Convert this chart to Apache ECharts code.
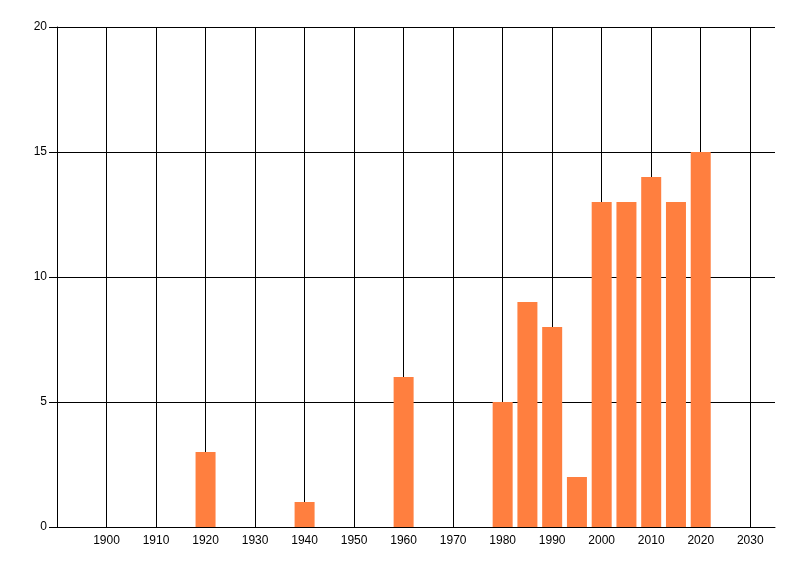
<!DOCTYPE html>
<html>
<head>
<meta charset="utf-8">
<script src="https://cdn.jsdelivr.net/npm/echarts@6/dist/echarts.min.js"></script>
<style>
html, body { margin: 0; padding: 0; background: #fff; }
#chart { width: 800px; height: 576px; }
</style>
</head>
<body>
<div id="chart"></div>
<script>
var years = [1920, 1940, 1960, 1980, 1985, 1990, 1995, 2000, 2005, 2010, 2015, 2020];
var counts = [3, 1, 6, 5, 9, 8, 2, 13, 13, 14, 13, 15];

var seriesData = [];
for (var i = 0; i < years.length; i++) {
    seriesData.push([years[i], counts[i]]);
}

var labelFont = '"Liberation Sans Narrow", "Liberation Sans", sans-serif';

var option = {
    backgroundColor: '#fff',
    animation: false,
    grid: {
        left: 57,
        right: 25,
        top: 27,
        bottom: 49
    },
    xAxis: {
        type: 'value',
        min: 1890,
        max: 2035,
        interval: 10,
        axisLine: { show: true, lineStyle: { color: '#000', width: 1 } },
        axisTick: { show: false },
        axisLabel: {
            showMinLabel: false,
            showMaxLabel: false,
            color: '#000',
            fontFamily: labelFont,
            fontSize: 12,
            margin: 8,
            formatter: function (v) { return String(v); }
        },
        splitLine: {
            show: true,
            showMinLine: false,
            showMaxLine: false,
            lineStyle: { color: '#000', width: 1 }
        }
    },
    yAxis: {
        type: 'value',
        min: 0,
        max: 20,
        interval: 5,
        axisLine: { show: true, lineStyle: { color: '#000', width: 1 } },
        axisTick: { show: true, length: 8, lineStyle: { color: '#000' } },
        axisLabel: {
            color: '#000',
            fontFamily: labelFont,
            fontSize: 12,
            margin: 10
        },
        splitLine: {
            show: true,
            lineStyle: { color: '#000', width: 1 }
        }
    },
    series: [
        {
            type: 'bar',
            data: seriesData,
            barWidth: 20,
            itemStyle: { color: '#ff7f3f' }
        }
    ]
};

var chart = echarts.init(document.getElementById('chart'));
chart.setOption(option);
</script>
</body>
</html>
